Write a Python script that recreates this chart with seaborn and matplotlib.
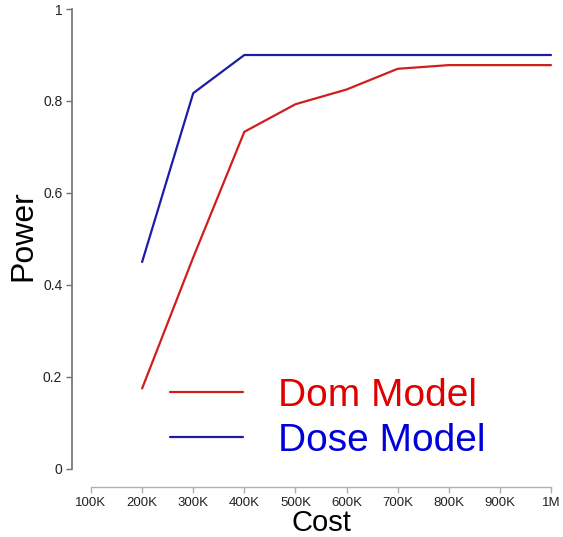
import matplotlib
matplotlib.use("Agg")
import matplotlib.pyplot as plt
import seaborn as sns
import pandas as pd

cost = [100, 200, 300, 400, 500, 600, 700, 800, 900, 1000]
cost_labels = ["100K", "200K", "300K", "400K", "500K", "600K", "700K", "800K", "900K", "1M"]
dom_cost = [200, 300, 400, 500, 600, 700, 800, 900, 1000]
dom_power = [0.175, 0.46, 0.733, 0.793, 0.825, 0.87, 0.878, 0.878, 0.878]
dose_cost = [200, 300, 400, 500, 600, 700, 800, 900, 1000]
dose_power = [0.45, 0.817, 0.9, 0.9, 0.9, 0.9, 0.9, 0.9, 0.9]
y_ticks = [0, 0.2, 0.4, 0.6, 0.8, 1]
y_labels = ["0", "0.2", "0.4", "0.6", "0.8", "1"]

df = pd.concat([
    pd.DataFrame({"Cost": dom_cost, "Power": dom_power, "Model": "Dom Model"}),
    pd.DataFrame({"Cost": dose_cost, "Power": dose_power, "Model": "Dose Model"}),
])

sns.set_theme(style="white")
plt.rcParams["font.family"] = ["Liberation Sans", "DejaVu Sans"]

W, H = 563, 537
fig = plt.figure(figsize=(W / 100, H / 100), dpi=100)
ax = fig.add_axes([72 / W, (537 - 487.4) / H, 498 / W, 496.8 / H])

palette = {"Dom Model": "#d01e1e", "Dose Model": "#1c1ca8"}
sns.lineplot(data=df, x="Cost", y="Power", hue="Model", palette=palette,
             linewidth=1.6, ax=ax, legend=True)

d = 19 / 460 * 900
ax.set_xlim(100 - d, 1000 + d)
ax.set_ylim(-0.04, 1.04)

for s in ["top", "right"]:
    ax.spines[s].set_visible(False)
ax.spines["left"].set_bounds(0, 1)
ax.spines["bottom"].set_bounds(100, 1000)
ax.spines["left"].set_color("#707070")
ax.spines["bottom"].set_color("#b0b0b0")
ax.spines["left"].set_linewidth(1.2)
ax.spines["bottom"].set_linewidth(1.0)

ax.set_xticks(cost)
ax.set_xticklabels(cost_labels)
ax.set_yticks(y_ticks)
ax.set_yticklabels(y_labels)
ax.tick_params(axis="both", which="major", direction="out", length=4,
               width=1, colors="#222222", left=True, bottom=True)
ax.tick_params(axis="x", color="#b0b0b0", labelsize=9.5, pad=3)
ax.tick_params(axis="y", color="#707070", labelsize=10, pad=3)

ax.set_xlabel("Cost", fontsize=21, labelpad=0, color="black")
ax.set_ylabel("Power", fontsize=23, color="black")
ax.yaxis.set_label_coords((38 - 72) / 498, (487.4 - 236) / 496.8)

leg = ax.legend(loc="upper left", bbox_to_anchor=((170 - 72) / 498, (487.4 - 378) / 496.8),
                frameon=False, fontsize=28, handlelength=1.88, handletextpad=0.9,
                labelspacing=0.23, borderpad=0, borderaxespad=0)
for text, line in zip(leg.get_texts(), leg.get_lines()):
    text.set_color("#e00000" if text.get_text() == "Dom Model" else "#0000d8")
    line.set_linewidth(1.6)

fig.savefig("out.png", dpi=100)
